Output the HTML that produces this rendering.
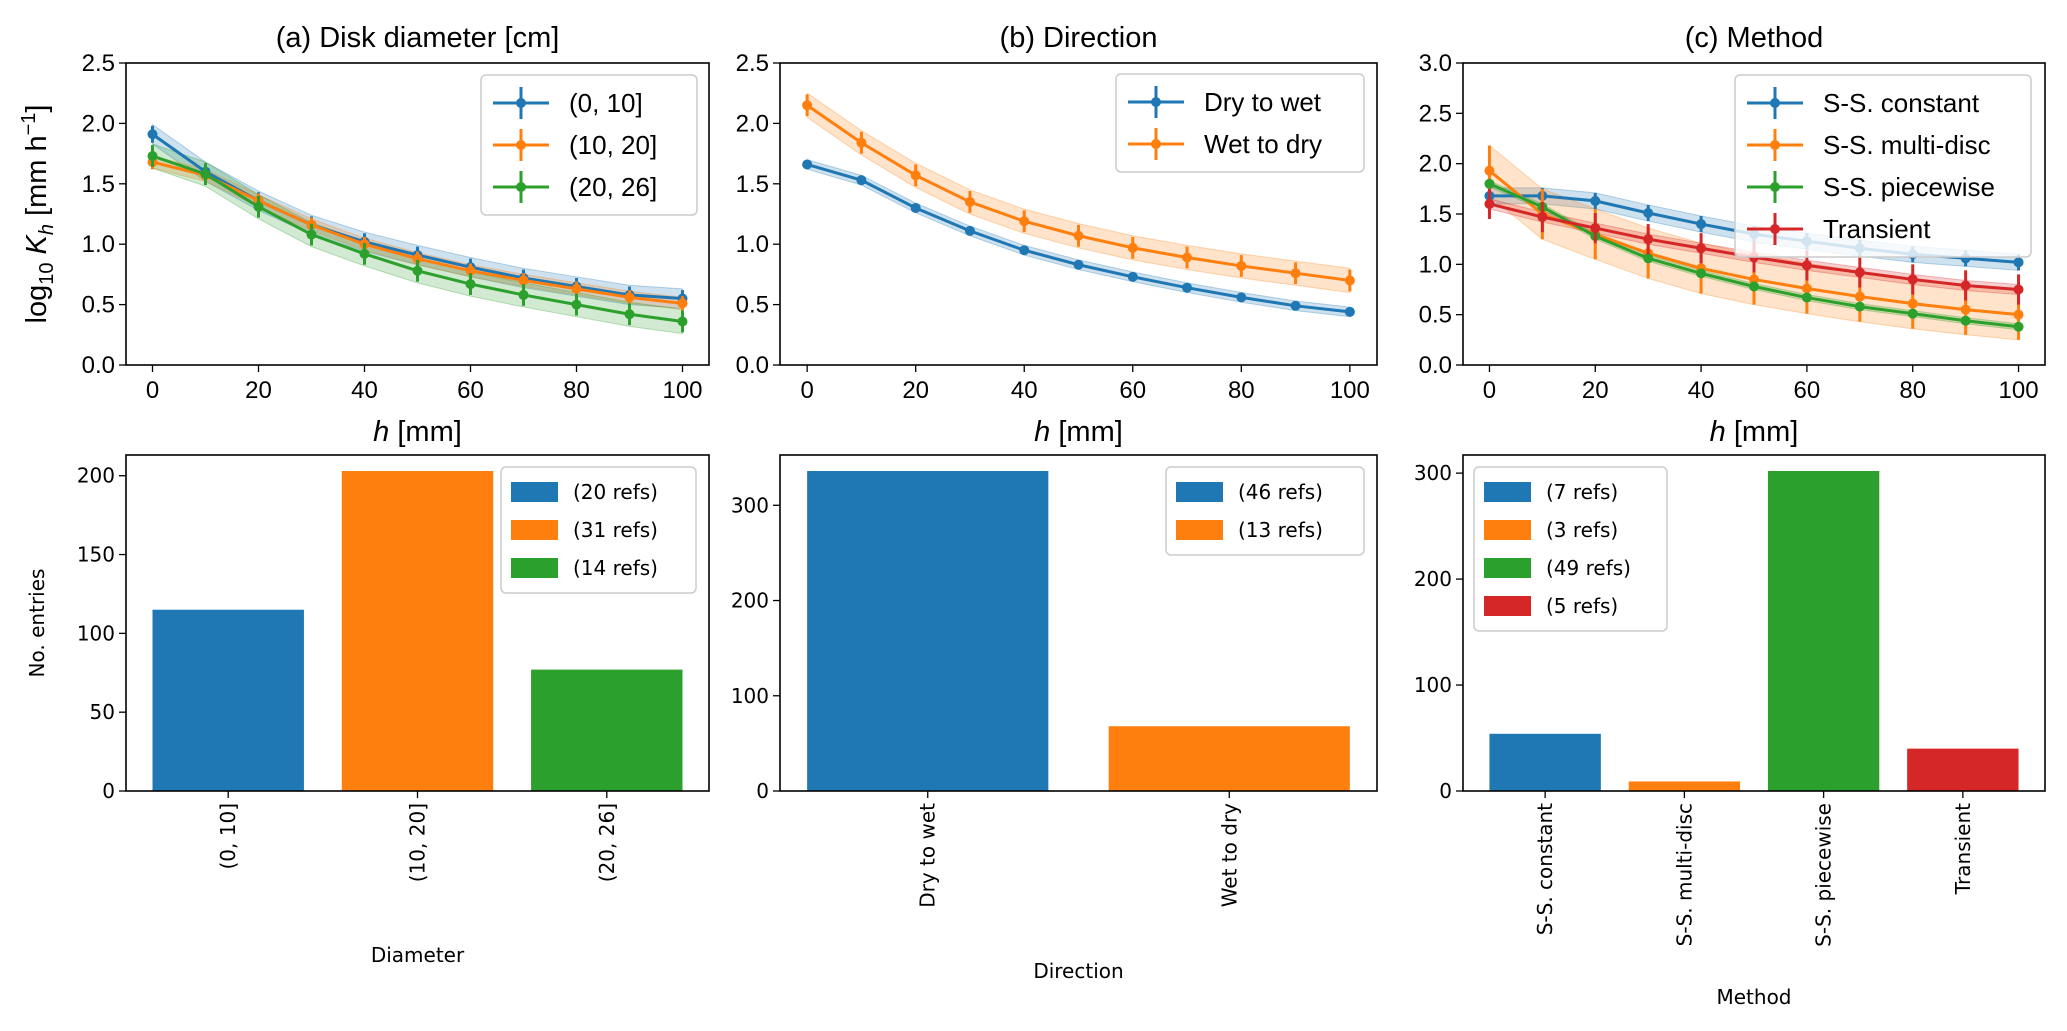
<!DOCTYPE html>
<html><head><meta charset="utf-8"><style>
body{margin:0;background:#fff}
svg{display:block;font-family:"Liberation Sans","DejaVu Sans",sans-serif}
</style></head><body>
<svg id="fig" width="2067" height="1031" viewBox="0 0 2067 1031" xmlns="http://www.w3.org/2000/svg"></svg>
<script>
const hVals=[0,10,20,30,40,50,60,70,80,90,100];
const aNames=["(0, 10]","(10, 20]","(20, 26]"];
const a0=[1.91,1.60,1.36,1.16,1.02,0.91,0.81,0.72,0.65,0.58,0.55];
const a1=[1.68,1.57,1.36,1.16,1.00,0.88,0.78,0.70,0.63,0.56,0.51];
const a2=[1.73,1.58,1.31,1.08,0.92,0.78,0.67,0.58,0.50,0.42,0.36];
const aErr=[0.07,0.06,0.09];
const aBand=[0.08,0.05,0.1];
const bNames=["Dry to wet","Wet to dry"];
const b0=[1.66,1.53,1.30,1.11,0.95,0.83,0.73,0.64,0.56,0.49,0.44];
const b1=[2.15,1.84,1.57,1.35,1.19,1.07,0.97,0.89,0.82,0.76,0.70];
const bErr=[0.03,0.09];
const bBand=[0.04,0.1];
const cNames=["S-S. constant","S-S. multi-disc","S-S. piecewise","Transient"];
const c0=[1.68,1.68,1.63,1.51,1.40,1.30,1.23,1.16,1.10,1.06,1.02];
const c1=[1.93,1.50,1.30,1.11,0.96,0.85,0.76,0.68,0.61,0.55,0.50];
const c2=[1.80,1.57,1.28,1.06,0.91,0.78,0.67,0.58,0.51,0.44,0.38];
const c3=[1.60,1.47,1.36,1.25,1.16,1.07,0.99,0.92,0.85,0.79,0.75];
const cErr=[0.08,0.25,0.04,0.15];
const cBand=[0.08,0.25,0.03,0.05];
const barA=[115,203,77], barALeg=["(20 refs)","(31 refs)","(14 refs)"];
const barB=[336,68], barBLeg=["(46 refs)","(13 refs)"];
const barC=[54,9,302,40], barCLeg=["(7 refs)","(3 refs)","(49 refs)","(5 refs)"];
const xTicks=[0,20,40,60,80,100];
const COLORS=["#1f77b4","#ff7f0e","#2ca02c","#d62728"];
const NS="http://www.w3.org/2000/svg";
const DJ='"DejaVu Sans","Liberation Sans",sans-serif';
const svg=document.getElementById('fig');
function el(tag,attrs,parent,text){const e=document.createElementNS(NS,tag);for(const k in attrs)e.setAttribute(k,attrs[k]);if(text!==undefined)e.textContent=text;(parent||svg).appendChild(e);return e;}

function linePanel(L,R,T,B,ymax,yStep,series,errs,bands,names,title,showYLabel,leg,key){
  const g=el('g',{});
  
  
  const sx=v=>L+(v+5)/110*(R-L), sy=v=>B-v/ymax*(B-T);
  const t=el('text',{x:(L+R)/2,y:T-16,'font-size':29,'text-anchor':'middle'},g,title);
  
  
  for(let v=0;v<=ymax+1e-9;v+=yStep){
    el('line',{x1:L-7,x2:L,y1:sy(v),y2:sy(v),stroke:'#000','stroke-width':1.3},g);
    const tl=el('text',{x:L-11,y:sy(v)+8,'font-size':24,'text-anchor':'end'},g,v.toFixed(1));
    
    
  }
  xTicks.forEach(v=>{
    el('line',{x1:sx(v),x2:sx(v),y1:B,y2:B+7,stroke:'#000','stroke-width':1.3},g);
    const tl=el('text',{x:sx(v),y:B+33,'font-size':24,'text-anchor':'middle'},g,String(v));
    
    
  });
  const xl=el('text',{x:(L+R)/2,y:B+76,'font-size':29,'text-anchor':'middle'},g);
  
  
  el('tspan',{'font-style':'italic'},xl,'h');el('tspan',{},xl,' [mm]');
  if(showYLabel){
    const yl=el('text',{x:0,y:0,'font-size':29,'text-anchor':'middle',transform:`translate(46,${(T+B)/2}) rotate(-90)`},g);
    
    
    el('tspan',{},yl,'log');el('tspan',{'font-size':20,dy:7},yl,'10');
    el('tspan',{'font-style':'italic',dy:-7},yl,' K');el('tspan',{'font-size':20,'font-style':'italic',dy:7},yl,'h');
    el('tspan',{dy:-7},yl,' [mm h');el('tspan',{'font-size':20,dy:-11},yl,'−1');el('tspan',{dy:11},yl,']');
  }
  series.forEach((s,i)=>{
    const c=COLORS[i], band=bands[i];
    let up=s.map((v,j)=>sx(hVals[j])+','+sy(v+band)).join(' ');
    let dn=s.map((v,j)=>sx(hVals[j])+','+sy(v-band)).reverse().join(' ');
    const p=el('polygon',{points:up+' '+dn,fill:c,'fill-opacity':0.22,stroke:c,'stroke-opacity':0.3},g);
    
    
  });
  series.forEach((s,i)=>{
    const c=COLORS[i], e=errs[i];
    const pl=el('polyline',{points:s.map((v,j)=>sx(hVals[j])+','+sy(v)).join(' '),fill:'none',stroke:c,'stroke-width':3},g);
    
    
    s.forEach((v,j)=>{
      el('line',{x1:sx(hVals[j]),x2:sx(hVals[j]),y1:sy(v-e),y2:sy(v+e),stroke:c,'stroke-width':3},g);
      const pt=el('circle',{cx:sx(hVals[j]),cy:sy(v),r:5,fill:c},g);
      
      
    });
  });
  el('rect',{x:L,y:T,width:R-L,height:B-T,fill:'none',stroke:'#000','stroke-width':1.6},g);
  const lg=el('g',{},g);
  
  
  el('rect',{x:leg[0],y:leg[1],width:leg[2],height:14+names.length*42,rx:5,fill:'#fff','fill-opacity':0.8,stroke:'#ccc','stroke-width':1.5},lg);
  names.forEach((n,i)=>{
    const y=leg[1]+28+i*42, x=leg[0]+12;
    el('line',{x1:x,x2:x+56,y1:y,y2:y,stroke:COLORS[i],'stroke-width':3},lg);
    el('line',{x1:x+28,x2:x+28,y1:y-16,y2:y+16,stroke:COLORS[i],'stroke-width':3},lg);
    el('circle',{cx:x+28,cy:y,r:5,fill:COLORS[i]},lg);
    const tx=el('text',{x:x+76,y:y+9,'font-size':26},lg,n);
    
    
  });
}

function barPanel(L,R,T,B,vals,ticks,cats,legs,xlabel,showYLabel,leg,key){
  const g=el('g',{'font-family':DJ});
  
  
  const n=vals.length, ymax=Math.max(...vals)*1.05;
  const x0=-0.4-0.05*(n-1+0.8), x1=n-1+0.4+0.05*(n-1+0.8);
  const sx=v=>L+(v-x0)/(x1-x0)*(R-L), sy=v=>B-v/ymax*(B-T);
  vals.forEach((v,i)=>{
    const r=el('rect',{x:sx(i-0.4),y:sy(v),width:sx(i+0.4)-sx(i-0.4),height:B-sy(v),fill:COLORS[i]},g);
    
    
  });
  ticks.forEach(v=>{
    el('line',{x1:L-7,x2:L,y1:sy(v),y2:sy(v),stroke:'#000','stroke-width':1.3},g);
    const tl=el('text',{x:L-11,y:sy(v)+7,'font-size':20,'text-anchor':'end'},g,String(v));
    
    
  });
  cats.forEach((c,i)=>{
    el('line',{x1:sx(i),x2:sx(i),y1:B,y2:B+7,stroke:'#000','stroke-width':1.3},g);
    const tl=el('text',{x:0,y:0,'font-size':20,'text-anchor':'end',transform:`translate(${sx(i)+7},${B+12}) rotate(-90)`},g,c);
    
    
  });
  const xl=el('text',{x:(L+R)/2,y:xlabel[1],'font-size':20,'text-anchor':'middle'},g,xlabel[0]);
  
  
  if(showYLabel){
    const yl=el('text',{x:0,y:0,'font-size':20,'text-anchor':'middle',transform:`translate(44,${(T+B)/2}) rotate(-90)`},g,'No. entries');
    
    
  }
  el('rect',{x:L,y:T,width:R-L,height:B-T,fill:'none',stroke:'#000','stroke-width':1.6},g);
  const lg=el('g',{},g);
  
  
  el('rect',{x:leg[0],y:leg[1],width:leg[2],height:12+legs.length*38,rx:5,fill:'#fff','fill-opacity':0.8,stroke:'#ccc','stroke-width':1.5},lg);
  legs.forEach((t,i)=>{
    const y=leg[1]+25+i*38, x=leg[0]+10;
    el('rect',{x:x,y:y-10,width:47,height:20,fill:COLORS[i]},lg);
    const tx=el('text',{x:x+62,y:y+7,'font-size':20},lg,t);
    
    
  });
}

linePanel(126,709,63,365,2.5,0.5,[a0,a1,a2],aErr,aBand,aNames,'(a) Disk diameter [cm]',true,[481,75,216],'diameter');
linePanel(780,1377,63,365,2.5,0.5,[b0,b1],bErr,bBand,bNames,'(b) Direction',false,[1116,74,248],'direction');
linePanel(1463,2045,63,365,3.0,0.5,[c0,c1,c2,c3],cErr,cBand,cNames,'(c) Method',false,[1735,75,296],'method');

barPanel(126,709,455,791,barA,[0,50,100,150,200],aNames,barALeg,['Diameter',962],true,[501,467,195],'diameter');
barPanel(780,1377,455,791,barB,[0,100,200,300],bNames,barBLeg,['Direction',978],false,[1166,467,198],'direction');
barPanel(1463,2045,455,791,barC,[0,100,200,300],cNames,barCLeg,['Method',1004],false,[1474,467,193],'method');
</script>
</body></html>
